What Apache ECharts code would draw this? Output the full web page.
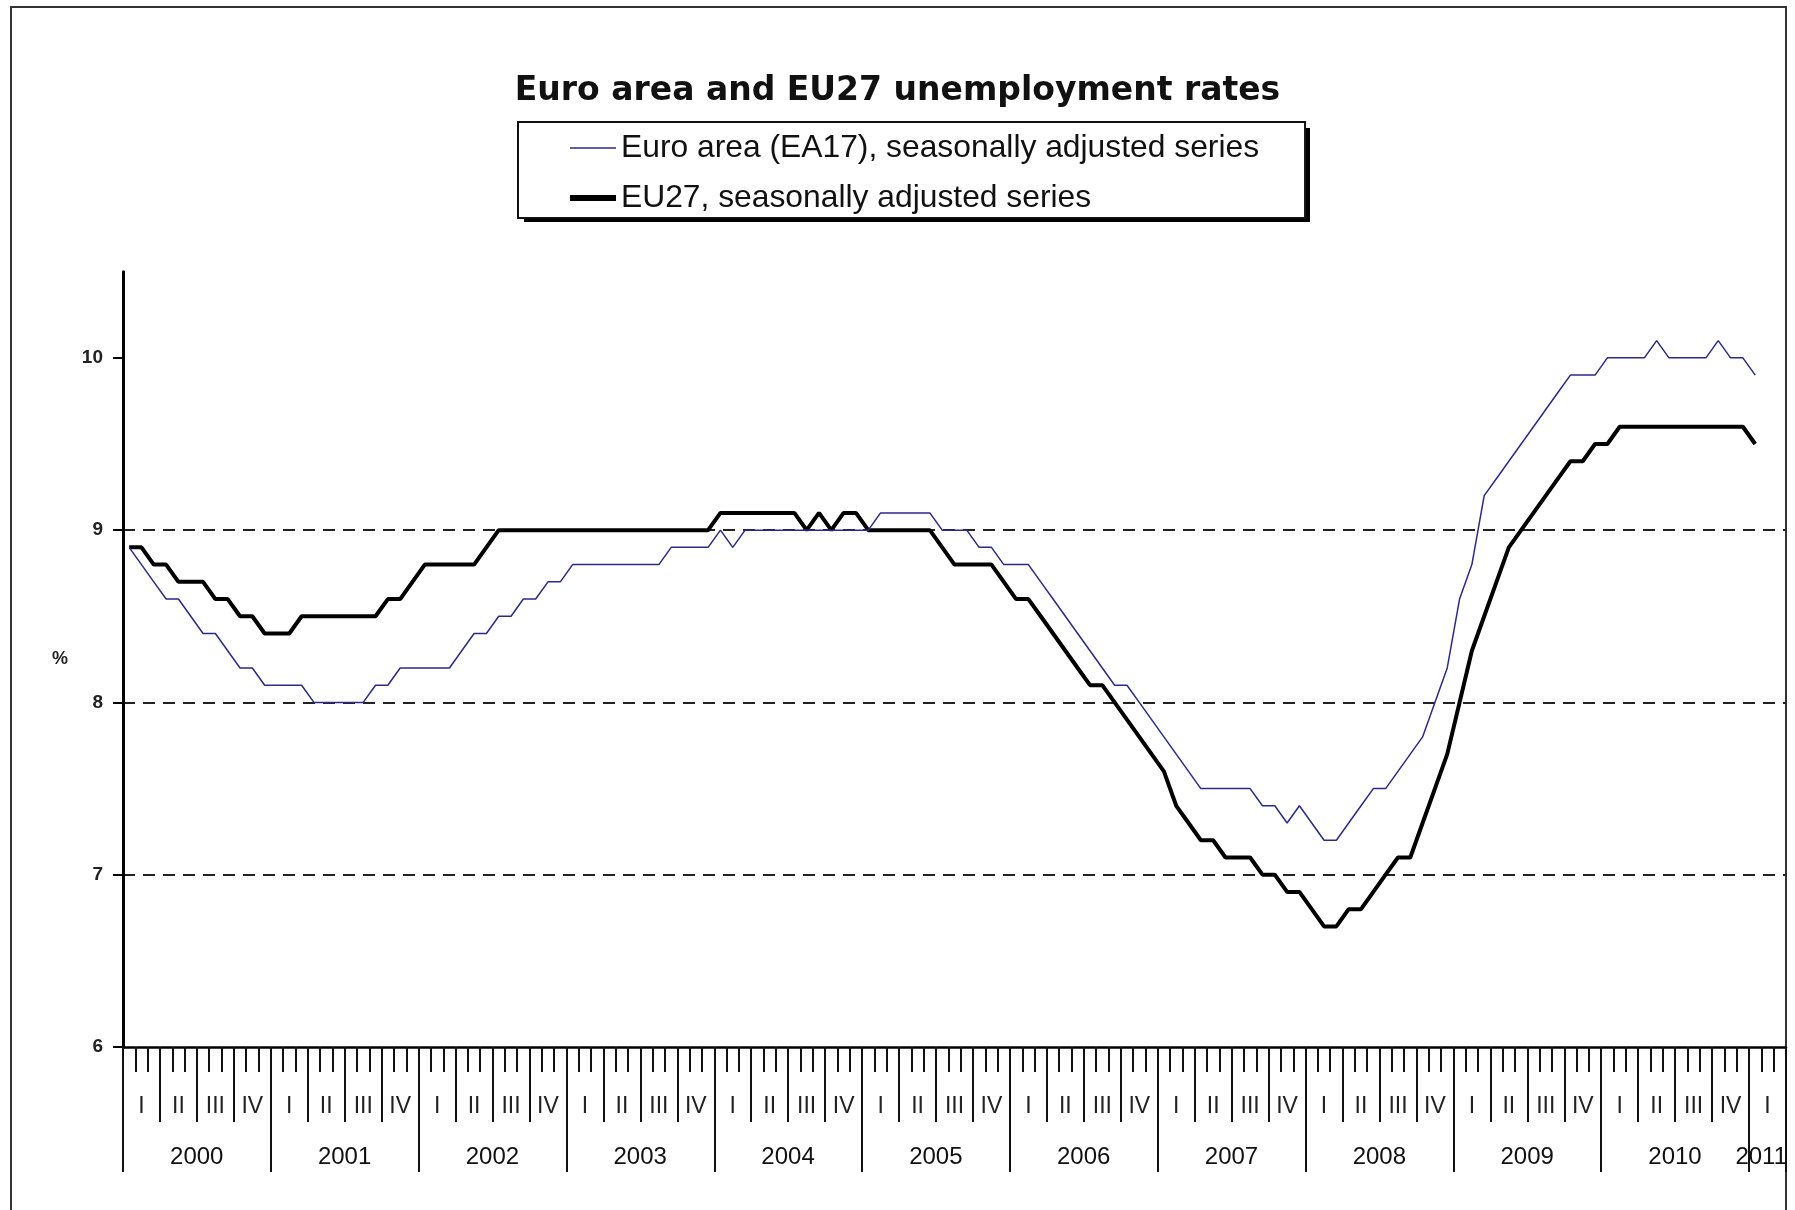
<!DOCTYPE html>
<html>
<head>
<meta charset="utf-8">
<script src="https://cdn.jsdelivr.net/npm/echarts@6/dist/echarts.min.js"></script>
<style>
html,body{margin:0;padding:0;background:#fff;}
#chart{width:1795px;height:1210px;}
</style>
</head>
<body>
<div id="chart"></div>
<script>
// ---- data ----
const years = ['2000','2001','2002','2003','2004','2005','2006','2007','2008','2009','2010','2011'];
const quarterNames = ['I','II','III','IV'];
const monthsInLastYear = 3;               // axis runs to end of Q1 2011
const yTickValues = [6, 7, 8, 9, 10];

const seriesNames = ['Euro area (EA17), seasonally adjusted series', 'EU27, seasonally adjusted series'];

// monthly values Jan 2000 .. Jan 2011
const ea17 = [
  8.9,8.8,8.7,8.6,8.6,8.5,8.4,8.4,8.3,8.2,8.2,8.1,   // 2000
  8.1,8.1,8.1,8.0,8.0,8.0,8.0,8.0,8.1,8.1,8.2,8.2,   // 2001
  8.2,8.2,8.2,8.3,8.4,8.4,8.5,8.5,8.6,8.6,8.7,8.7,   // 2002
  8.8,8.8,8.8,8.8,8.8,8.8,8.8,8.8,8.9,8.9,8.9,8.9,   // 2003
  9.0,8.9,9.0,9.0,9.0,9.0,9.0,9.0,9.0,9.0,9.0,9.0,   // 2004
  9.0,9.1,9.1,9.1,9.1,9.1,9.0,9.0,9.0,8.9,8.9,8.8,   // 2005
  8.8,8.8,8.7,8.6,8.5,8.4,8.3,8.2,8.1,8.1,8.0,7.9,   // 2006
  7.8,7.7,7.6,7.5,7.5,7.5,7.5,7.5,7.4,7.4,7.3,7.4,   // 2007
  7.3,7.2,7.2,7.3,7.4,7.5,7.5,7.6,7.7,7.8,8.0,8.2,   // 2008
  8.6,8.8,9.2,9.3,9.4,9.5,9.6,9.7,9.8,9.9,9.9,9.9,   // 2009
  10.0,10.0,10.0,10.0,10.1,10.0,10.0,10.0,10.0,10.1,10.0,10.0, // 2010
  9.9                                              // 2011
];
const eu27 = [
  8.9,8.9,8.8,8.8,8.7,8.7,8.7,8.6,8.6,8.5,8.5,8.4,   // 2000
  8.4,8.4,8.5,8.5,8.5,8.5,8.5,8.5,8.5,8.6,8.6,8.7,   // 2001
  8.8,8.8,8.8,8.8,8.8,8.9,9.0,9.0,9.0,9.0,9.0,9.0,   // 2002
  9.0,9.0,9.0,9.0,9.0,9.0,9.0,9.0,9.0,9.0,9.0,9.0,   // 2003
  9.1,9.1,9.1,9.1,9.1,9.1,9.1,9.0,9.1,9.0,9.1,9.1,   // 2004
  9.0,9.0,9.0,9.0,9.0,9.0,8.9,8.8,8.8,8.8,8.8,8.7,   // 2005
  8.6,8.6,8.5,8.4,8.3,8.2,8.1,8.1,8.0,7.9,7.8,7.7,   // 2006
  7.6,7.4,7.3,7.2,7.2,7.1,7.1,7.1,7.0,7.0,6.9,6.9,   // 2007
  6.8,6.7,6.7,6.8,6.8,6.9,7.0,7.1,7.1,7.3,7.5,7.7,   // 2008
  8.0,8.3,8.5,8.7,8.9,9.0,9.1,9.2,9.3,9.4,9.4,9.5,   // 2009
  9.5,9.6,9.6,9.6,9.6,9.6,9.6,9.6,9.6,9.6,9.6,9.6,   // 2010
  9.5                                              // 2011
];

// ---- categories built from the arrays above ----
const monthCats = [];
const quarterCats = [];
years.forEach(function (y, yi) {
  const nMonths = (yi === years.length - 1) ? monthsInLastYear : 12;
  for (let m = 0; m < nMonths; m++) {
    monthCats.push(y + '-' + String(m + 1).padStart(2, '0'));
    if (m % 3 === 0) quarterCats.push(y + ' ' + quarterNames[m / 3]);
  }
});
const lastYearIndex = monthCats.length - monthsInLastYear;

const tickLine = { color: '#111', width: 2 };
const hiddenSymbol = { opacity: 0, borderWidth: 0 };

const chart = echarts.init(document.getElementById('chart'), null, { renderer: 'canvas' });
const option = {
  animation: false,
  backgroundColor: '#ffffff',
  graphic: [
    { // outer frame
      type: 'rect', silent: true, z: 0,
      shape: { x: 11, y: 7, width: 1775, height: 1260 },
      style: { fill: null, stroke: '#333', lineWidth: 2 }
    },
    { // drop shadow of the legend box
      type: 'rect', silent: true, z: 0,
      shape: { x: 524, y: 128, width: 786, height: 94 },
      style: { fill: '#000' }
    }
  ],
  title: {
    text: 'Euro area and EU27 unemployment rates',
    left: 'center',
    top: 70,
    textStyle: { fontFamily: 'DejaVu Sans', fontWeight: 'bold', fontSize: 33, color: '#111' }
  },
  legend: {
    orient: 'vertical',
    left: 518,
    top: 122,
    z: 10,
    padding: [10, 46, 4, 49],
    itemGap: 18,
    itemWidth: 46,
    itemHeight: 14,
    backgroundColor: '#ffffff',
    borderColor: '#111',
    borderWidth: 2,
    borderRadius: 0,
    textStyle: { fontFamily: 'Liberation Sans, Arial, sans-serif', fontSize: 31.8, lineHeight: 31, color: '#111' },
    data: [
      { name: seriesNames[0], itemStyle: hiddenSymbol, lineStyle: { width: 1.5, color: '#2a2a8c' } },
      { name: seriesNames[1], itemStyle: hiddenSymbol, lineStyle: { width: 6, color: '#000' } }
    ]
  },
  grid: { left: 123, right: 9, top: 271.7, bottom: 163, containLabel: false, outerBoundsMode: 'none' },
  xAxis: [
    {
      type: 'category', data: monthCats, position: 'bottom', boundaryGap: true,
      axisLine: { show: true, onZero: false, lineStyle: { color: '#000', width: 2.5 } },
      axisTick: { show: true, interval: 0, length: 25, lineStyle: tickLine },
      axisLabel: { show: false },
      splitLine: { show: false }
    },
    {
      type: 'category', data: quarterCats, position: 'bottom', boundaryGap: true,
      axisLine: { show: false, onZero: false },
      axisTick: { show: true, interval: 0, length: 75, lineStyle: tickLine },
      axisLabel: {
        show: true, interval: 0, margin: 48,
        fontFamily: 'Liberation Sans, Arial, sans-serif', fontSize: 23, color: '#222',
        formatter: function (v) { return v.split(' ')[1]; }
      },
      splitLine: { show: false }
    },
    {
      type: 'category', data: monthCats, position: 'bottom', boundaryGap: true,
      axisLine: { show: false, onZero: false },
      axisTick: { show: true, interval: function (i) { return i % 12 === 0; }, length: 125, lineStyle: tickLine },
      axisLabel: {
        show: true, margin: 98, padding: [0, 0, 0, 12],
        interval: function (i) { return i % 12 === 5 || i === lastYearIndex; },
        fontFamily: 'Liberation Sans, Arial, sans-serif', fontSize: 24, color: '#111',
        formatter: function (v) { return v.slice(0, 4); }
      },
      splitLine: { show: false }
    }
  ],
  yAxis: {
    type: 'value', min: 6, max: 10.5, interval: 1, position: 'left',
    axisLine: { show: true, onZero: false, lineStyle: { color: '#000', width: 3 } },
    axisTick: { show: true, inside: false, length: 10, customValues: yTickValues, lineStyle: { color: '#000', width: 2 } },
    axisLabel: {
      customValues: yTickValues, margin: 20,
      fontFamily: 'Liberation Sans, Arial, sans-serif', fontWeight: 'bold', fontSize: 19, color: '#222',
      formatter: function (v) { return Number.isInteger(v) ? String(v) : ''; }
    },
    splitLine: {
      show: true, showMinLine: false, showMaxLine: false,
      lineStyle: { color: '#222', width: 2, type: [12, 8] }
    },
    name: '%', nameLocation: 'middle', nameRotate: 0, nameGap: 55,
    nameTextStyle: { fontFamily: 'Liberation Sans, Arial, sans-serif', fontWeight: 'bold', fontSize: 18, color: '#222' }
  },
  series: [
    {
      name: seriesNames[1], type: 'line', xAxisIndex: 0, yAxisIndex: 0,
      data: eu27, symbol: 'none', z: 3,
      lineStyle: { color: '#000', width: 4 }, itemStyle: { color: '#000' }
    },
    {
      name: seriesNames[0], type: 'line', xAxisIndex: 0, yAxisIndex: 0,
      data: ea17, symbol: 'none', z: 4,
      lineStyle: { color: '#2a2a8c', width: 1.5 }, itemStyle: { color: '#2a2a8c' }
    }
  ]
};
chart.setOption(option);
</script>
</body>
</html>
